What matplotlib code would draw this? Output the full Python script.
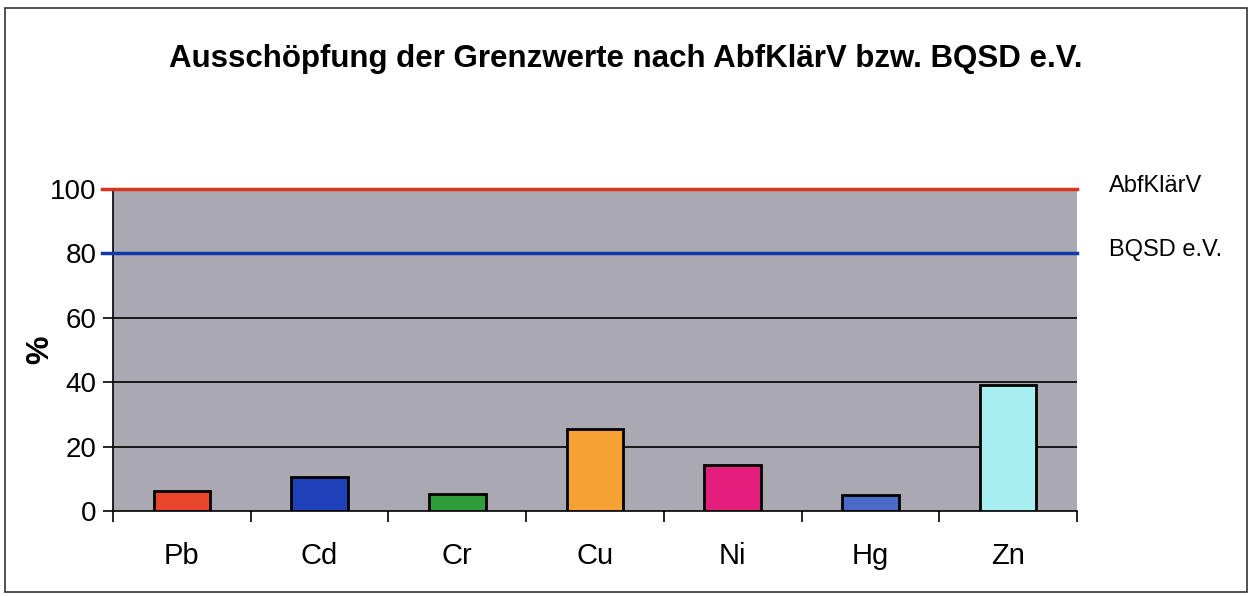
import matplotlib.pyplot as plt
from matplotlib.patches import Rectangle
import numpy as np

plt.rcParams['font.family'] = ['Liberation Sans', 'DejaVu Sans']

# Ausschöpfung der Grenzwerte in %
metals = ['Pb', 'Cd', 'Cr', 'Cu', 'Ni', 'Hg', 'Zn']
values = [6.2, 10.5, 5.3, 25.5, 14.3, 5.0, 39.0]
colors = ['#e8452c', '#1e40b8', '#2f9e3a', '#f5a133', '#e31e7d', '#4a6ac8', '#a8eef0']
limits = [100, 80]
limit_names = ['AbfKlärV', 'BQSD e.V.']
limit_colors = ['#d8361e', '#1438a8']
yticks = [0, 20, 40, 60, 80, 100]

fig = plt.figure(figsize=(12.52, 5.96), dpi=100)
fig.patches.append(Rectangle((0.004, 0.006), 0.992, 0.98, transform=fig.transFigure,
                             fill=False, edgecolor='#333333', linewidth=1.2))

ax = fig.add_axes([113 / 1252, 1 - 511 / 596, (1077 - 113) / 1252, (511 - 189) / 596])
ax.set_facecolor('#aaa9b2')

x = np.arange(len(metals))
ax.bar(x, values, width=0.41, color=colors, edgecolor='black', linewidth=2, zorder=3)

for y in [20, 40, 60]:
    ax.axhline(y, color='black', linewidth=1.2, zorder=2)
for lim, name, c in zip(limits, limit_names, limit_colors):
    ax.plot([-0.58, len(metals) - 0.5], [lim, lim], color=c, linewidth=2.5,
            zorder=4, clip_on=False)
    ax.text(len(metals) - 0.27, lim + 1, name, fontsize=17, va='center', ha='left')

ax.set_xlim(-0.5, len(metals) - 0.5)
ax.set_ylim(0, 100)
ax.set_yticks(yticks)
ax.set_xticks(x)
ax.set_xticklabels(metals, fontsize=21)
ax.set_xticks(np.arange(len(metals) + 1) - 0.5, minor=True)
ax.tick_params(axis='x', which='major', length=0, pad=22)
ax.tick_params(axis='x', which='minor', length=8, width=1.2, direction='out')
ax.tick_params(axis='y', labelsize=20, length=7, width=1.2, direction='out', pad=5)

for side in ['top', 'right']:
    ax.spines[side].set_visible(False)
ax.spines['left'].set_linewidth(1.2)
ax.spines['bottom'].set_linewidth(1.2)

ax.set_ylabel('%', fontsize=23, fontweight='bold')
ax.yaxis.set_label_coords(-0.06, 0.5)
fig.text(0.5, 1 - 59 / 596, 'Ausschöpfung der Grenzwerte nach AbfKlärV bzw. BQSD e.V.',
         ha='center', va='center', fontsize=22.5, fontweight='bold')

fig.savefig('out.png', dpi=100)
